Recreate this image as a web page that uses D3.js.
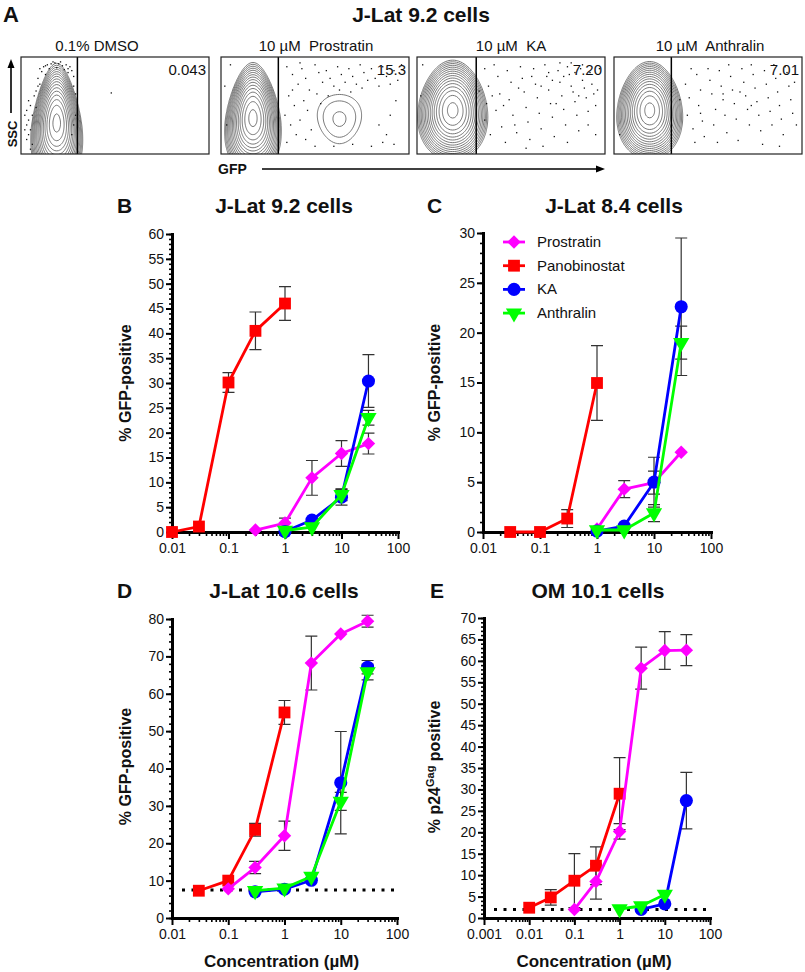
<!DOCTYPE html>
<html>
<head>
<meta charset="utf-8">
<script src="https://cdn.jsdelivr.net/npm/d3@7"></script>
<style>
  body { margin: 0; background: #fff; }
  text { font-family: "Liberation Sans", Arial, sans-serif; fill: #111; }
</style>
</head>
<body>
<svg id="fig" width="805" height="972"></svg>
<script>
// ---------- panel A : flow plots ----------
const flowLabels = ["0.1% DMSO", "10 \u00b5M  Prostratin", "10 \u00b5M  KA", "10 \u00b5M  Anthralin"];
const flowPercent = ["0.043", "15.3", "7.20", "7.01"];
const flowGate = [30, 30.5, 31.5, 30.5];          // GFP gate, % of plot width
// cell populations: [gfp centre, ssc centre, sd gfp, sd ssc, weight, skew]
const popDMSO = [[19, 32, 4.7, 22, 1, 0.12]];
const popProstratin = [[17, 37, 5.2, 20.5, 1, 0.1], [63, 36, 11, 24, 0.035, -0.15]];
const popKA = [[19, 45, 6.6, 18.5, 1, 0.05]];
const popAnthralin = [[19, 45, 6.2, 18, 1, 0.05]];
// recorded events outside the main contours [gfp %, ssc %]
const dotsDMSO = [[12,90],[14,92],[16,93],[18,94],[20,93],[22,91],[24,92],[26,90],[15,88],[19,89],[23,87],[27,86],[11,85],[25,84],[13,82],[28,80],[9,78],[10,72],[28,70],[8,65],[7,60],[29,62],[4,55],[5,50],[3,45],[6,40],[4,35],[3,30],[5,25],[4,20],[3,15],[6,10],[29,40],[28,30],[5,5],[27,20],[17,95],[21,95],[13,91],[25,88],[10,88],[9,70],[2,40],[2,25],[8,48],[48,63]];
const dotsProstratin = [[35,90],[38,82],[41,72],[36,60],[39,50],[34,40],[37,30],[40,20],[35,12],[43,88],[45,78],[47,66],[44,55],[46,45],[42,35],[48,25],[45,15],[50,92],[52,84],[54,74],[51,62],[53,52],[56,86],[58,78],[60,70],[57,60],[62,90],[64,82],[66,74],[63,66],[68,88],[70,80],[72,72],[69,64],[74,92],[76,84],[78,76],[75,68],[80,88],[82,78],[84,70],[86,90],[88,80],[90,72],[92,86],[94,76],[84,30],[88,20],[90,40],[93,55],[86,12],[92,10],[80,8],[70,10],[60,8],[50,8],[38,66],[42,94],[96,92],[5,92],[2,70],[3,30]];
const dotsKA = [[36,88],[38,70],[37,52],[36,35],[39,20],[41,92],[43,80],[44,62],[42,45],[45,28],[47,12],[48,86],[50,74],[49,56],[51,40],[53,22],[55,90],[56,78],[57,64],[58,48],[59,33],[60,15],[62,88],[63,72],[64,58],[65,42],[66,26],[68,92],[69,80],[70,66],[71,52],[72,38],[73,18],[75,86],[76,74],[77,60],[78,46],[79,30],[80,90],[81,82],[82,70],[83,64],[84,54],[85,40],[86,24],[87,88],[88,76],[89,68],[90,58],[91,44],[92,84],[93,72],[94,62],[95,50],[88,92],[82,94],[76,94],[70,84],[66,70],[61,80],[54,68],[46,50],[40,60],[52,30],[74,52],[86,60],[91,30],[95,20],[80,12],[67,8],[58,6],[96,66],[97,88],[84,84],[78,80],[72,76],[3,92],[2,60],[33,65]];
const dotsAnthralin = [[38,72],[40,58],[39,40],[42,26],[44,82],[46,66],[45,50],[47,34],[48,18],[51,76],[52,62],[54,46],[53,30],[56,86],[57,70],[58,56],[59,40],[60,22],[62,80],[63,66],[64,52],[65,36],[66,14],[68,88],[69,74],[70,60],[71,46],[72,30],[74,82],[75,68],[76,54],[77,40],[78,24],[80,86],[81,72],[82,58],[83,44],[84,30],[86,78],[87,64],[88,50],[89,36],[90,20],[92,84],[93,70],[94,56],[95,42],[91,90],[85,92],[73,92],[61,92],[50,88],[43,12],[55,12],[79,10],[88,8],[67,64],[73,50],[58,62],[46,42],[96,74],[97,30],[35,56],[41,88],[3,20]];
const flowPops = [popDMSO, popProstratin, popKA, popAnthralin];
const flowDots = [dotsDMSO, dotsProstratin, dotsKA, dotsAnthralin];

// ---------- panels B-E : dose response, rows are [conc uM, mean %, error] ----------
const drugs = ["Prostratin", "Panobinostat", "KA", "Anthralin"];
const drugColors = ["#ff00ff", "#ff0000", "#0000ff", "#00ff00"];

const jlat92_prostratin = [[0.3,0.4,0],[1,1.8,1.0],[3,10.9,3.5],[10,15.8,2.6],[30,17.8,2.1]];
const jlat92_panobinostat = [[0.01,0,0],[0.03,1.1,0],[0.1,30.1,2.0],[0.3,40.5,3.8],[1,46,3.4]];
const jlat92_ka = [[1,0.1,0],[3,2.4,0],[10,7.0,1.6],[30,30.4,5.3]];
const jlat92_anthralin = [[1,0.3,0],[3,1.0,0],[10,7.5,1.2],[30,23,1.5]];

const jlat84_prostratin = [[1,0.3,0],[3,4.3,0.85],[10,4.95,1.15],[30,8,0]];
const jlat84_panobinostat = [[0.03,0,0],[0.1,0,0],[0.3,1.35,0.9],[1,14.95,3.75]];
const jlat84_ka = [[1,0.1,0],[3,0.6,0],[10,5.0,2.5],[30,22.6,6.9]];
const jlat84_anthralin = [[1,0.2,0],[3,0.2,0],[10,1.9,0.85],[30,19,1.65]];

const jlat106_prostratin = [[0.1,7.8,0],[0.3,13.5,1.65],[1,22,3.9],[3,68.2,7.2],[10,76,0],[30,79.4,1.6]];
const jlat106_panobinostat = [[0.03,7.3,0],[0.1,10,0],[0.3,23.6,1.7],[1,55,3.2]];
const jlat106_ka = [[0.3,7,0],[1,7.7,0],[3,10.1,0],[10,36.2,13.7],[30,67.1,1.8]];
const jlat106_anthralin = [[0.3,7.3,0],[1,8,0],[3,11.1,0],[10,31.2,2.4],[30,65.8,2.1]];

const om101_prostratin = [[0.1,2,0],[0.3,8.5,4.1],[1,20.2,1.8],[3,58.3,4.9],[10,62.4,4.4],[30,62.5,3.6]];
const om101_panobinostat = [[0.01,2.4,0],[0.03,4.8,1.8],[0.1,8.7,6.3],[0.3,12.2,4.4],[1,29,8.4]];
const om101_ka = [[3,2.0,0],[10,3.3,0],[30,27.4,6.6]];
const om101_anthralin = [[1,2.1,0],[3,2.8,0],[10,5.5,0]];

const xTicksJlat = [0.01, 0.1, 1, 10, 100];
const xTicksOM = [0.001, 0.01, 0.1, 1, 10, 100];
const baselineJlat106 = 7.5;
const baselineOM101 = 2.0;

const svg = d3.select("#fig");

// ---------- panel A ----------
const boxLefts = [21, 221, 417, 614];
const boxW = 188, boxTop = 57, boxH = 97;
const labelCentres = [97, 316, 511, 710];
const levels = d3.range(16).map(i => 0.02 * Math.pow(1.29, i));

svg.append("text").attr("x", 3).attr("y", 22).attr("font-size", 22).attr("font-weight", "bold").text("A");
svg.append("text").attr("x", 421).attr("y", 22).attr("text-anchor", "middle")
  .attr("font-size", 21).attr("font-weight", "bold").text("J-Lat 9.2 cells");

const defs = svg.append("defs");

flowPops.forEach((pops, k) => {
  const bx = boxLefts[k];
  const gx = d3.scaleLinear().domain([0, 100]).range([bx, bx + boxW]);
  const gy = d3.scaleLinear().domain([0, 100]).range([boxTop + boxH, boxTop]);

  defs.append("clipPath").attr("id", "clip" + k)
    .append("rect").attr("x", bx).attr("y", boxTop).attr("width", boxW).attr("height", boxH);

  // density grid over -20..120 in both directions
  const n = 141, m = 141;
  const vals = new Float64Array(n * m);
  for (let j = 0; j < m; j++) {
    const yv = 120 - j;
    for (let i = 0; i < n; i++) {
      const xv = -20 + i;
      let s = 0;
      for (const [cx, cy, sx, sy, w, sk] of pops) {
        const sxe = sx * Math.max(0.45, 1 - sk * (yv - cy) / sy);
        s += w * Math.exp(-0.5 * ((xv - cx) / sxe) ** 2 - 0.5 * ((yv - cy) / sy) ** 2);
      }
      vals[j * n + i] = s;
    }
  }
  const contours = d3.contours().size([n, m]).thresholds(levels)(vals);
  const proj = d3.geoTransform({
    point: function (px, py) {
      this.stream.point(gx(-20 + (px - 0.5)), gy(120 - (py - 0.5)));
    }
  });
  const g = svg.append("g").attr("clip-path", `url(#clip${k})`);
  g.selectAll("path").data(contours).join("path")
    .attr("d", d3.geoPath(proj))
    .attr("fill", "none")
    .attr("stroke", "#555")
    .attr("stroke-width", 0.8);

  g.selectAll("rect.ev").data(flowDots[k]).join("rect").attr("class", "ev")
    .attr("x", d => gx(d[0]) - 0.6).attr("y", d => gy(d[1]) - 0.6)
    .attr("width", 1.3).attr("height", 1.3).attr("fill", "#111");

  svg.append("line").attr("x1", gx(flowGate[k])).attr("x2", gx(flowGate[k]))
    .attr("y1", boxTop).attr("y2", boxTop + boxH).attr("stroke", "#000").attr("stroke-width", 1.5);
  svg.append("rect").attr("x", bx).attr("y", boxTop).attr("width", boxW).attr("height", boxH)
    .attr("fill", "none").attr("stroke", "#222").attr("stroke-width", 1.2);

  svg.append("text").attr("x", labelCentres[k]).attr("y", 51).attr("text-anchor", "middle")
    .attr("font-size", 15).style("white-space", "pre").text(flowLabels[k]);
  svg.append("text").attr("x", bx + boxW - 3).attr("y", 75).attr("text-anchor", "end")
    .attr("font-size", 15).text(flowPercent[k]);
});

// SSC / GFP arrows
svg.append("line").attr("x1", 11).attr("x2", 11).attr("y1", 113).attr("y2", 66).attr("stroke", "#000").attr("stroke-width", 1.6);
svg.append("path").attr("d", "M11,59 L7.5,68 L14.5,68 Z").attr("fill", "#000");
svg.append("text").attr("transform", "translate(17,134) rotate(-90)").attr("text-anchor", "middle")
  .attr("font-size", 13).attr("font-weight", "bold").text("SSC");
svg.append("text").attr("x", 218).attr("y", 174).attr("font-size", 14).attr("font-weight", "bold").text("GFP");
svg.append("line").attr("x1", 262).attr("x2", 597).attr("y1", 169).attr("y2", 169).attr("stroke", "#000").attr("stroke-width", 1.6);
svg.append("path").attr("d", "M605,169 L596,165.5 L596,172.5 Z").attr("fill", "#000");

// ---------- panels B-E ----------
const symbolFor = [
  d3.symbol().type(d3.symbolSquare).size(90),     // diamond (rotated square)
  d3.symbol().type(d3.symbolSquare).size(140),
  d3.symbol().type(d3.symbolCircle).size(135),
  d3.symbol().type(d3.symbolTriangle).size(115)
];
const symbolRot = [45, 0, 0, 180];
const drawOrder = [1, 0, 2, 3];

function drawDose(cfg) {
  const g = svg.append("g");
  const x = d3.scaleLog().domain(cfg.xDomain).range(cfg.xRange);
  const y = d3.scaleLinear().domain([0, cfg.yMax]).range(cfg.yRange);
  const y0 = y(0);

  // minor x ticks
  const minorX = [];
  const e0 = Math.round(Math.log10(cfg.xDomain[0])), e1 = Math.round(Math.log10(cfg.xDomain[1]));
  for (let e = e0; e < e1; e++) for (let k = 2; k < 10; k++) minorX.push(k * Math.pow(10, e));
  g.append("g").attr("transform", `translate(0,${y0})`)
    .call(d3.axisBottom(x).tickValues(minorX).tickSize(4).tickFormat("").tickSizeOuter(0))
    .call(a => a.select(".domain").remove())
    .call(a => a.selectAll("line").attr("stroke-width", 1.6));
  // minor y ticks
  g.append("g").attr("transform", `translate(${cfg.xRange[0]},0)`)
    .call(d3.axisLeft(y).tickValues(d3.range(0, cfg.yMax + 0.01, cfg.yMinor)).tickSize(3).tickFormat("").tickSizeOuter(0))
    .call(a => a.select(".domain").remove())
    .call(a => a.selectAll("line").attr("stroke-width", 1.6));
  // major axes
  const xa = g.append("g").attr("transform", `translate(0,${y0})`)
    .call(d3.axisBottom(x).tickValues(cfg.xTicks).tickSize(7).tickPadding(4).tickFormat(d => String(d)).tickSizeOuter(0));
  const ya = g.append("g").attr("transform", `translate(${cfg.xRange[0]},0)`)
    .call(d3.axisLeft(y).tickValues(d3.range(0, cfg.yMax + 0.01, cfg.yStep)).tickSize(6).tickPadding(2).tickSizeOuter(0));
  [xa, ya].forEach(a => {
    a.select(".domain").attr("stroke-width", 3).attr("stroke-linecap", "square");
    a.selectAll(".tick line").attr("stroke-width", 2);
    a.selectAll(".tick text").attr("font-size", 14).attr("fill", "#222")
      .attr("font-family", "Liberation Sans, Arial, sans-serif");
  });

  // baseline (dotted)
  if (cfg.baseline != null) {
    g.append("line").attr("x1", cfg.xRange[0] + 10).attr("x2", cfg.xRange[1])
      .attr("y1", y(cfg.baseline)).attr("y2", y(cfg.baseline))
      .attr("stroke", "#000").attr("stroke-width", 3).attr("stroke-dasharray", "3,6.5");
  }

  // error bars
  drawOrder.forEach(si => {
    const rows = cfg.series[si].filter(r => r[2] > 0);
    const eb = g.append("g").attr("stroke", "#333").attr("stroke-width", 1.2).attr("fill", "none");
    eb.selectAll("path").data(rows).join("path")
      .attr("d", r => {
        const cx = x(r[0]), t = y(r[1] + r[2]), b = y(r[1] - r[2]);
        return `M${cx},${t}V${b}M${cx - 6},${t}H${cx + 6}M${cx - 6},${b}H${cx + 6}`;
      });
  });
  // lines and markers
  const line = d3.line().x(r => x(r[0])).y(r => y(r[1]));
  drawOrder.forEach(si => {
    const rows = cfg.series[si];
    g.append("path").datum(rows).attr("d", line)
      .attr("fill", "none").attr("stroke", drugColors[si]).attr("stroke-width", 2.8).attr("stroke-linejoin", "round");
    g.selectAll(null).data(rows).join("path")
      .attr("d", symbolFor[si])
      .attr("transform", r => `translate(${x(r[0])},${y(r[1])}) rotate(${symbolRot[si]})`)
      .attr("fill", drugColors[si]);
  });

  // titles
  svg.append("text").attr("x", cfg.letterX).attr("y", cfg.titleY).attr("font-size", 21)
    .attr("font-weight", "bold").text(cfg.letter);
  svg.append("text").attr("x", cfg.titleX).attr("y", cfg.titleY).attr("text-anchor", "middle")
    .attr("font-size", 21).attr("font-weight", "bold").text(cfg.title);
  const yl = svg.append("text")
    .attr("transform", `translate(${cfg.yLabelX},${(cfg.yRange[0] + cfg.yRange[1]) / 2 + cfg.yLabelDy}) rotate(-90)`)
    .attr("text-anchor", "middle").attr("font-size", 16).attr("font-weight", "bold");
  if (cfg.p24) {
    yl.append("tspan").text("% p24");
    yl.append("tspan").attr("baseline-shift", "super").attr("font-size", 11).text("Gag");
    yl.append("tspan").text(" positive");
  } else {
    yl.text("% GFP-positive");
  }
  if (cfg.xLabel) {
    svg.append("text").attr("x", (cfg.xRange[0] + cfg.xRange[1]) / 2 - 3).attr("y", 967)
      .attr("text-anchor", "middle").attr("font-size", 17).attr("font-weight", "bold")
      .text("Concentration (\u00b5M)");
  }
}

drawDose({
  letter: "B", letterX: 117, title: "J-Lat 9.2 cells", titleX: 284, titleY: 213,
  xDomain: [0.01, 100], xRange: [172, 398], xTicks: xTicksJlat,
  yMax: 60, yStep: 5, yMinor: 1, yRange: [532, 234],
  yLabelX: 131, yLabelDy: 0,
  series: [jlat92_prostratin, jlat92_panobinostat, jlat92_ka, jlat92_anthralin]
});
drawDose({
  letter: "C", letterX: 427, title: "J-Lat 8.4 cells", titleX: 614, titleY: 213,
  xDomain: [0.01, 100], xRange: [483, 711], xTicks: xTicksJlat,
  yMax: 30, yStep: 5, yMinor: 1, yRange: [532, 233],
  yLabelX: 440, yLabelDy: 0,
  series: [jlat84_prostratin, jlat84_panobinostat, jlat84_ka, jlat84_anthralin]
});
drawDose({
  letter: "D", letterX: 117, title: "J-Lat 10.6 cells", titleX: 284, titleY: 598,
  xDomain: [0.01, 100], xRange: [172, 397], xTicks: xTicksJlat,
  yMax: 80, yStep: 10, yMinor: 2, yRange: [918, 619],
  yLabelX: 131, yLabelDy: -2, baseline: baselineJlat106, xLabel: true,
  series: [jlat106_prostratin, jlat106_panobinostat, jlat106_ka, jlat106_anthralin]
});
drawDose({
  letter: "E", letterX: 430, title: "OM 10.1 cells", titleX: 598, titleY: 598,
  xDomain: [0.001, 100], xRange: [484, 710], xTicks: xTicksOM,
  yMax: 70, yStep: 5, yMinor: 1, yRange: [918, 618],
  yLabelX: 440, yLabelDy: -1, baseline: baselineOM101, xLabel: true, p24: true,
  series: [om101_prostratin, om101_panobinostat, om101_ka, om101_anthralin]
});

// legend in panel C
const legend = svg.append("g").attr("transform", "translate(503,242)");
drugs.forEach((name, i) => {
  const row = legend.append("g").attr("transform", `translate(0,${i * 23.7})`);
  row.append("line").attr("x1", 0).attr("x2", 22).attr("stroke", drugColors[i]).attr("stroke-width", 2.8);
  row.append("path").attr("d", symbolFor[i]).attr("transform", `translate(11,0) rotate(${symbolRot[i]})`)
    .attr("fill", drugColors[i]);
  row.append("text").attr("x", 34).attr("y", 5).attr("font-size", 15).text(name);
});
</script>
</body>
</html>
